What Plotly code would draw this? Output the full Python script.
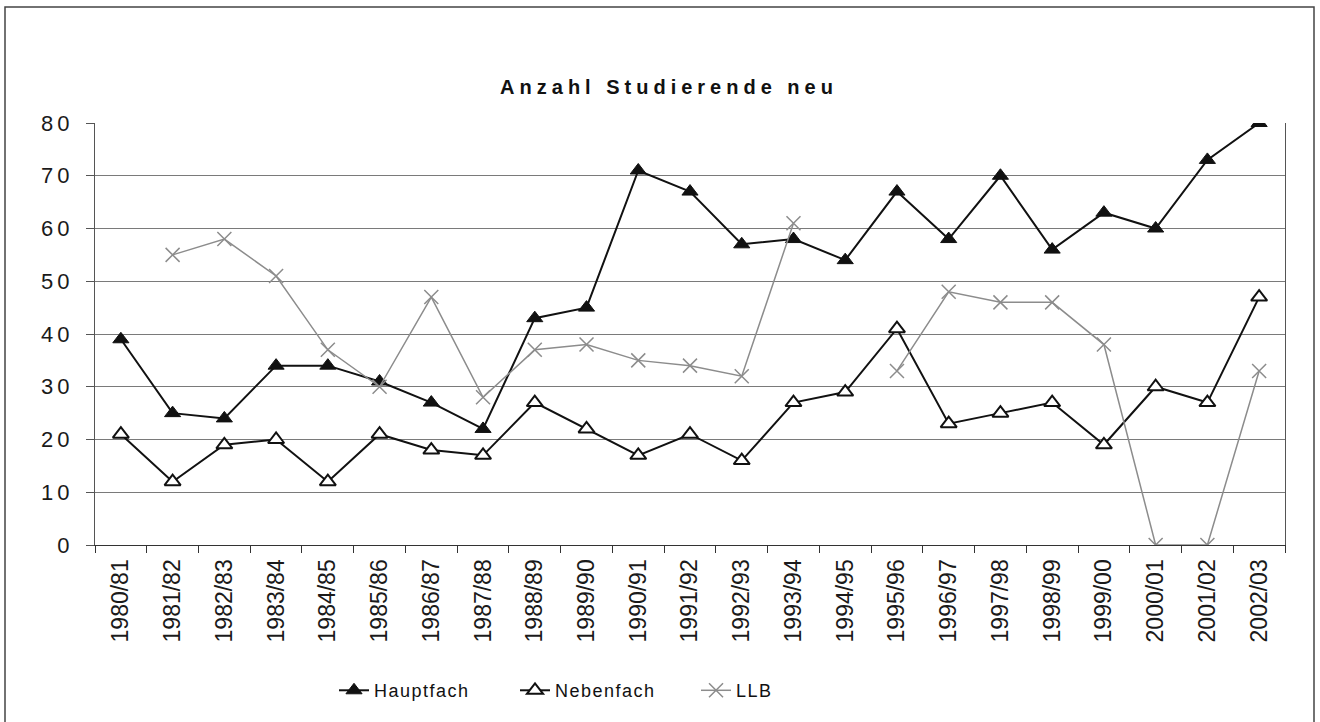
import plotly.graph_objects as go

categories = ["1980/81", "1981/82", "1982/83", "1983/84", "1984/85", "1985/86",
              "1986/87", "1987/88", "1988/89", "1989/90", "1990/91", "1991/92",
              "1992/93", "1993/94", "1994/95", "1995/96", "1996/97", "1997/98",
              "1998/99", "1999/00", "2000/01", "2001/02", "2002/03"]

hauptfach = [39, 25, 24, 34, 34, 31, 27, 22, 43, 45, 71, 67, 57, 58, 54, 67,
             58, 70, 56, 63, 60, 73, 80]
nebenfach = [21, 12, 19, 20, 12, 21, 18, 17, 27, 22, 17, 21, 16, 27, 29, 41,
             23, 25, 27, 19, 30, 27, 47]
llb = [None, 55, 58, 51, 37, 30, 47, 28, 37, 38, 35, 34, 32, 61, None, 33,
       48, 46, 46, 38, 0, 0, 33]

y_ticks = [0, 10, 20, 30, 40, 50, 60, 70, 80]

FONT = "Arial, 'Liberation Sans', sans-serif"

fig = go.Figure()
fig.add_trace(go.Scatter(
    x=categories, y=hauptfach, name="Hauptfach", mode="lines+markers",
    line=dict(color="#111111", width=2),
    marker=dict(symbol="triangle-up", size=14, color="#111111",
                line=dict(color="#111111", width=1)),
))
fig.add_trace(go.Scatter(
    x=categories, y=nebenfach, name="Nebenfach", mode="lines+markers",
    line=dict(color="#111111", width=2),
    marker=dict(symbol="triangle-up", size=14, color="white",
                line=dict(color="#111111", width=2)),
))
fig.add_trace(go.Scatter(
    x=categories, y=llb, name="LLB", mode="lines+markers", connectgaps=False,
    line=dict(color="#8c8c8c", width=1.5),
    marker=dict(symbol="x-thin-open", size=14, color="#8c8c8c",
                line=dict(color="#8c8c8c", width=1.5)),
))

fig.update_layout(
    width=1320, height=722,
    margin=dict(l=95, r=35, t=123, b=177),
    paper_bgcolor="white", plot_bgcolor="white",
    font=dict(family=FONT, color="#1a1a1a"),
    title=dict(text="<b>Anzahl Studierende neu</b>", x=669 / 1320, xanchor="center",
               xref="container", y=1 - 87 / 722, yanchor="middle", yref="container",
               font=dict(size=20, family=FONT, color="#111111")),
    showlegend=True,
    legend=dict(orientation="h", x=0.429, xanchor="center", y=-0.345, yanchor="middle",
                font=dict(size=18, family=FONT, color="#111111"),
                entrywidth=136, entrywidthmode="pixels",
                bgcolor="rgba(0,0,0,0)"),
    xaxis=dict(
        type="category", categoryorder="array", categoryarray=categories,
        range=[-0.5, len(categories) - 0.5],
        tickangle=-90, tickfont=dict(size=23, family=FONT, color="#1a1a1a"),
        ticks="outside", tickson="boundaries", ticklen=7, tickcolor="#333333",
        ticklabelstandoff=4,
        showgrid=False, showline=True, linecolor="#333333", linewidth=1.2,
        zeroline=False,
    ),
    yaxis=dict(
        range=[0, 80], tickvals=y_ticks, ticks="outside", ticklen=8,
        tickcolor="#555555", ticklabelstandoff=8,
        tickfont=dict(size=22, family=FONT, color="#1a1a1a"),
        showgrid=True, gridcolor="#7a7a7a", gridwidth=1,
        showline=True, linecolor="#555555", linewidth=1, mirror=True,
        zeroline=False,
    ),
    shapes=[dict(type="rect", xref="paper", yref="paper",
                 x0=(5 - 95) / 1190, x1=(1314 - 95) / 1190,
                 y0=(545 - 740) / 422, y1=(545 - 7) / 422,
                 line=dict(color="#444444", width=1.5), fillcolor="rgba(0,0,0,0)",
                 layer="below")],
)

post = ("document.body.style.margin='0';"
        "var s=document.createElement('style');"
        "s.innerHTML='body{margin:0}.gtitle{letter-spacing:5px}.ytick text{letter-spacing:4px}"
        ".legendtext{letter-spacing:1.5px}';document.head.appendChild(s);")

fig.write_html("out.html", post_script=post, config={"displayModeBar": False})
